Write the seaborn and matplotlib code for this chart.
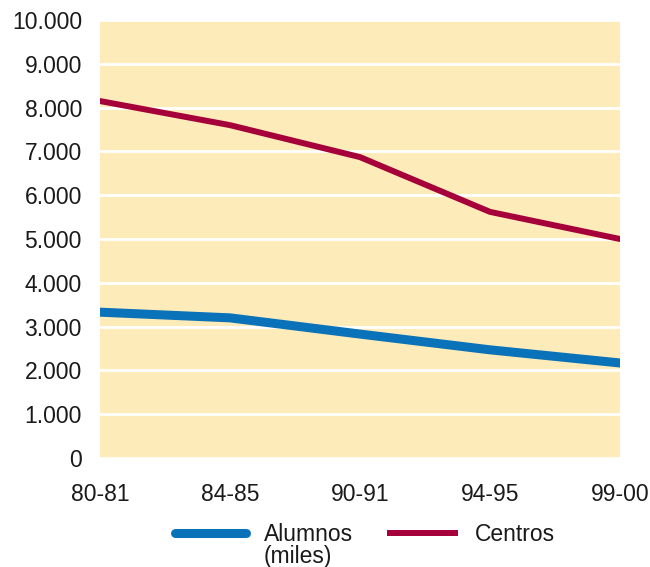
import numpy as np
import pandas as pd
import matplotlib
matplotlib.use('Agg')
import matplotlib.pyplot as plt
import seaborn as sns
from matplotlib.lines import Line2D

# data
cursos = ['80-81', '84-85', '90-91', '94-95', '99-00']
alumnos = [3330, 3200, 2830, 2470, 2170]
centros = [8150, 7600, 6870, 5620, 5000]

df = pd.DataFrame({'curso': cursos * 2,
                   'valor': alumnos + centros,
                   'serie': ['Alumnos'] * 5 + ['Centros'] * 5})
df['x'] = np.tile(np.arange(len(cursos)), 2)

sns.set_style('white')
plt.rcParams['font.family'] = ['Liberation Sans', 'DejaVu Sans']

fig = plt.figure(figsize=(6.5, 5.67), dpi=100)
ax = fig.add_axes([0.1538, 0.1922, 0.8, 0.7725])
ax.set_facecolor('#FDEBB9')

palette = {'Alumnos': '#0A72B8', 'Centros': '#A6003A'}
sns.lineplot(data=df, x='x', y='valor', hue='serie', palette=palette, ax=ax, legend=False)
ax.lines[0].set_linewidth(6.5)
ax.lines[1].set_linewidth(4.3)

ax.set_xlim(0, len(cursos) - 1)
ax.set_ylim(0, 10000)
ax.set_yticks(range(0, 10001, 1000))
ax.set_yticklabels([f'{v:,}'.replace(',', '.') for v in range(0, 10001, 1000)])
ax.set_xticks(range(len(cursos)))
ax.set_xticklabels(cursos)
ax.grid(axis='y', color='white', linewidth=2)
ax.set_axisbelow(True)
ax.tick_params(axis='both', length=0, labelsize=16.5, colors='#1a1a1a')
ax.tick_params(axis='x', pad=18)
ax.tick_params(axis='y', pad=13)
for s in ax.spines.values():
    s.set_visible(False)
ax.set_xlabel('')
ax.set_ylabel('')

handles = [Line2D([], [], color=palette['Alumnos'], linewidth=6.5, solid_capstyle='round'),
           Line2D([], [], color=palette['Centros'], linewidth=4.3, solid_capstyle='butt')]
leg = fig.legend(handles, list(palette), loc='center', bbox_to_anchor=(0.562, 0.057),
                 ncol=2, frameon=False, fontsize=16.5, handlelength=3.1, columnspacing=1.5,
                 handletextpad=0.75, labelcolor='#1a1a1a')

fig.canvas.draw()
bb = leg.get_texts()[0].get_window_extent().transformed(fig.transFigure.inverted())
fig.text(bb.x0, bb.y0 + 0.002, '(miles)', fontsize=16.5, color='#1a1a1a', va='top', ha='left')

fig.savefig('out.png', dpi=100)
